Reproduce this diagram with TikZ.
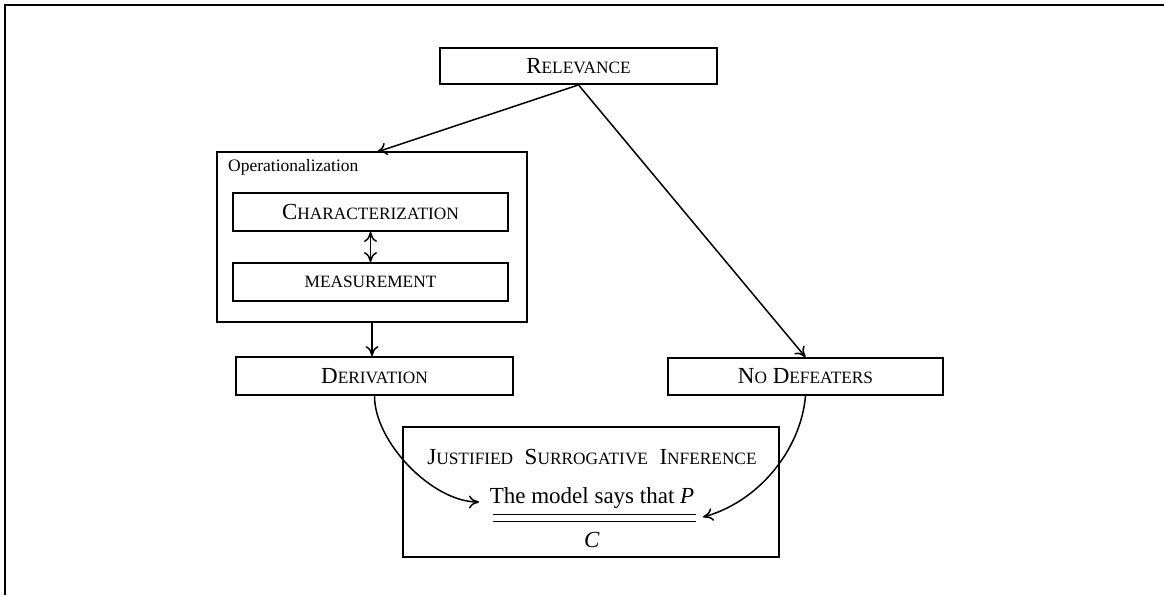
\documentclass[tikz,border=0pt]{standalone}
\usepackage{fontspec}
\setmainfont{Liberation Serif}
\usetikzlibrary{arrows.meta,calc}
\newcommand\fsc[1]{{\fontsize{17.3}{20}\selectfont #1}}
\begin{document}
\begin{tikzpicture}[x=1pt,y=-1pt,
  box/.style={draw,line width=1.8pt,rectangle,inner sep=0pt,font=\fontsize{23}{26}\selectfont},
  arr/.style={line width=1.5pt,-{To[length=10pt,width=13pt]}},
  darr/.style={line width=1.5pt,{To[length=10pt,width=13pt]}-{To[length=10pt,width=13pt]}},
  txt/.style={inner sep=0pt,font=\fontsize{23}{26}\selectfont}]
\useasboundingbox (0,0) rectangle (1164,595);
\draw[line width=1.8pt] (5,595) -- (5,5) -- (1164,5);

\node[box,minimum width=277,minimum height=36] (rel) at (578.5,66) {R\fsc{ELEVANCE}};
\node[box,minimum width=310,minimum height=170] (op) at (372,237) {};
\node[inner sep=0pt,anchor=west,font=\fontsize{17.5}{20}\selectfont] (oplab) at (228,167) {Operationalization};
\node[box,minimum width=275,minimum height=38] (char) at (370.5,212) {C\fsc{HARACTERIZATION}};
\node[box,minimum width=275,minimum height=38] (meas) at (370.5,282) {\fsc{MEASUREMENT}};
\node[box,minimum width=277,minimum height=38] (der) at (374.5,376) {D\fsc{ERIVATION}};
\node[box,minimum width=275,minimum height=37] (nod) at (805.5,376.5) {N\fsc{O} D\fsc{EFEATERS}};
\node[box,minimum width=376,minimum height=130] (jsi) at (591,492) {};
\node[txt] (jsit) at (592,457) {J\fsc{USTIFIED} \ S\fsc{URROGATIVE} \ I\fsc{NFERENCE}};
\node[txt] (prem) at (592,498) {The model says that \textit{P}};
\node[txt] (concl) at (592,540) {\textit{C}};
\coordinate (l1a) at (493,514); \coordinate (l1b) at (696,514);
\coordinate (l2a) at (493,521); \coordinate (l2b) at (696,521);
\draw[line width=1pt] (l1a) -- (l1b);
\draw[line width=1pt] (l2a) -- (l2b);
\coordinate (inL) at (479,502);
\coordinate (inR) at (703,517);
\coordinate (optop) at (377,152);

\draw[arr] (rel.south) -- (optop);
\draw[arr] (rel.south) -- (nod.north);
\draw[darr] (char.south) -- (meas.north);
\draw[arr] (op.south) -- (op.south |- der.north);
\draw[arr] (der.south) to[out=-90,in=180,looseness=0.8] (inL);
\draw[arr] (nod.south) to[out=-95,in=15,looseness=0.9] (inR);
\end{tikzpicture}
\end{document}
